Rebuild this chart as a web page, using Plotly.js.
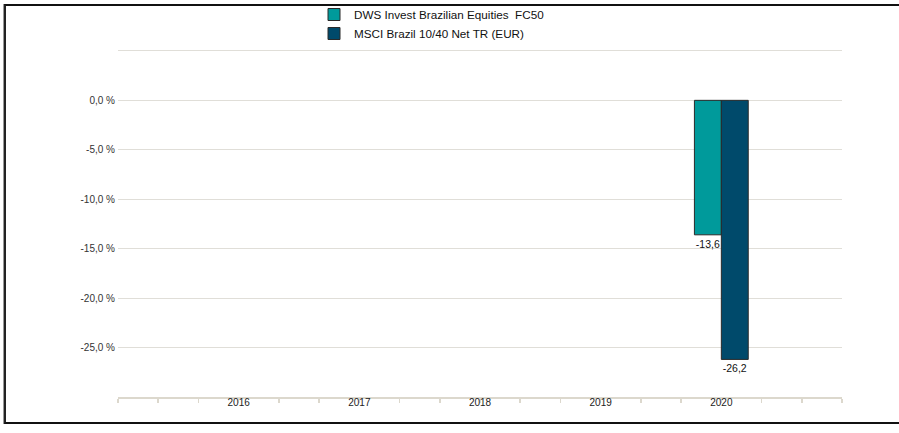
<!DOCTYPE html>
<html>
<head>
<meta charset="utf-8">
<script src="https://cdn.plot.ly/plotly-3.0.1.min.js"></script>
<style>
  html, body { margin: 0; padding: 0; background: #fff; }
  #wrap { position: relative; width: 899px; height: 433px; overflow: hidden; }
  #chart { position: absolute; left: 0; top: 0; width: 899px; height: 433px; }
  #frame { position: absolute; left: 4px; top: 4px; width: 910px; height: 416px;
           border-top: 2px solid #111; border-left: 2px solid #222; border-bottom: 2px solid #111;
           pointer-events: none; box-shadow: -1px 0 0 #999; }
</style>
</head>
<body>
<div id="wrap"><div id="chart"></div><div id="frame"></div></div>
<script>
// ---- data ----
const years = [2016, 2017, 2018, 2019, 2020];
const yearLabels = ['2016', '2017', '2018', '2019', '2020'];
const fundName = 'DWS Invest Brazilian Equities  FC50';
const benchName = 'MSCI Brazil 10/40 Net TR (EUR)';
const fundValues = [null, null, null, null, -13.6];
const benchValues = [null, null, null, null, -26.2];
const yTickVals = [5, 0, -5, -10, -15, -20, -25];
const yTickText = ['', '0,0 %', '-5,0 %', '-10,0 %', '-15,0 %', '-20,0 %', '-25,0 %'];

const fmt = v => (v === null ? '' : v.toFixed(1).replace('.', ','));

const font = 'Liberation Sans, Arial, sans-serif';

const traces = [
  {
    type: 'bar', name: fundName, x: years, y: fundValues,
    text: fundValues.map(fmt), textposition: 'outside',
    textfont: {family: font, size: 10.5, color: '#111'},
    marker: {color: '#009a9b', line: {color: '#2a2a2a', width: 1}},
    cliponaxis: false, hoverinfo: 'none'
  },
  {
    type: 'bar', name: benchName, x: years, y: benchValues,
    text: benchValues.map(fmt), textposition: 'outside',
    textfont: {family: font, size: 10.5, color: '#111'},
    marker: {color: '#004a6b', line: {color: '#2a2a2a', width: 1}},
    cliponaxis: false, hoverinfo: 'none'
  }
];

const layout = {
  width: 899, height: 433,
  margin: {l: 118, r: 57, t: 41, b: 36, autoexpand: false},
  paper_bgcolor: '#fff', plot_bgcolor: '#fff',
  font: {family: font, size: 10, color: '#333'},
  barmode: 'group', bargap: 0.554, bargroupgap: 0,
  showlegend: true,
  legend: {
    x: 314 / 899, xref: 'container', xanchor: 'left',
    y: 1.0, yref: 'container', yanchor: 'top',
    orientation: 'v', font: {family: font, size: 11.7, color: '#111'},
    bgcolor: 'rgba(0,0,0,0)', tracegroupgap: 0, itemwidth: 30
  },
  xaxis: {
    type: 'linear', range: [2015, 2021], fixedrange: true,
    tickvals: years, ticktext: yearLabels, ticks: '',
    showgrid: false, zeroline: false,
    showline: true, linecolor: '#dcd8cd', linewidth: 2,
    tickfont: {family: font, size: 10, color: '#222'},
    ticklabelstandoff: -5,
    minor: {tick0: 2015, dtick: 1/3, ticks: 'outside', ticklen: 4, tickcolor: '#dcd8cd', tickwidth: 1.5, showgrid: false}
  },
  yaxis: {
    range: [-30, 6], fixedrange: true,
    tickvals: yTickVals, ticktext: yTickText, ticks: '',
    showgrid: true, gridcolor: '#e0ded8', gridwidth: 1,
    zeroline: false, showline: false,
    tickfont: {family: font, size: 10, color: '#333'},
    ticklabelstandoff: 2
  }
};

Plotly.newPlot('chart', traces, layout, {staticPlot: true, displayModeBar: false});
</script>
</body>
</html>
